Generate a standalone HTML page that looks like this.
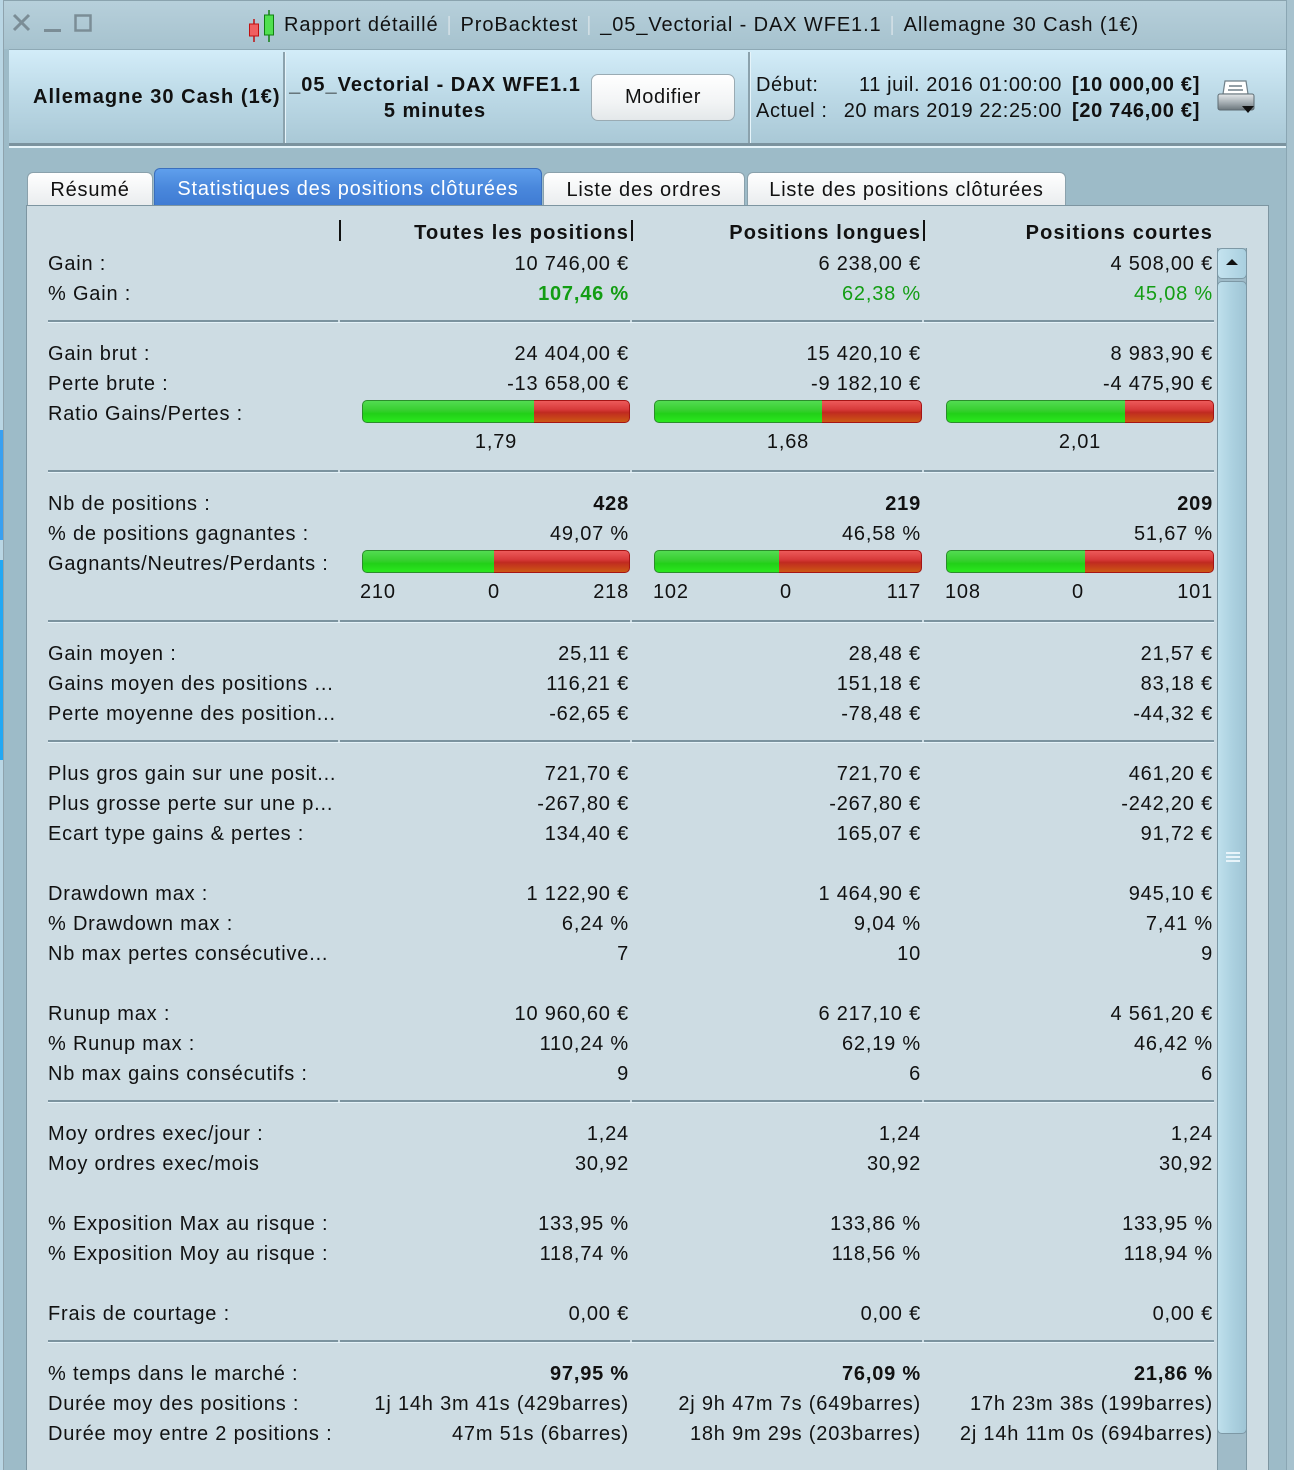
<!DOCTYPE html>
<html><head><meta charset="utf-8">
<style>
*{margin:0;padding:0;box-sizing:border-box}
html,body{width:1294px;height:1470px;overflow:hidden}
body{position:relative;background:#9dbbc8;font-family:"Liberation Sans",Arial,sans-serif;font-size:20px;color:#111;letter-spacing:0.8px}
.a{position:absolute}
.row{position:absolute;left:0;width:1294px;height:30px;line-height:30px;white-space:nowrap}
.l{position:absolute;left:48px}
.c1{position:absolute;right:665px}
.c2{position:absolute;right:373px}
.c3{position:absolute;right:81px}
.b{font-weight:bold}
.g{color:#139d13}
.sep{position:absolute;height:2px;background:#7b939f}
.sepl{position:absolute;height:1px;background:#e4f2f8}
.bar{position:absolute;height:23px;display:flex}
.gr{height:100%;background:linear-gradient(#52dc52,#36cf2e 45%,#22d018 60%,#2ae81e);border:1px solid #2b8d2b;border-right:none;border-radius:5px 0 0 5px}
.rd{height:100%;flex:1;background:linear-gradient(#ec5a5a,#d83a3a 40%,#c02a20 55%,#cc5814);border:1px solid #a51414;border-left:none;border-radius:0 5px 5px 0}
.tab{position:absolute;top:172px;height:34px;background:linear-gradient(#ffffff,#e9ecee);border:1px solid #8aa1ac;border-bottom:none;border-radius:6px 6px 0 0;text-align:center;line-height:34px;letter-spacing:0.8px}
.vb{position:absolute;top:220px;width:2px;height:21px;background:#111}
.ts{color:#d2dfe5;margin:0 1.5px}
</style></head><body>

<div class="a" style="left:0;top:0;width:3px;height:1470px;background:#b9d6e4"></div>
<div class="a" style="left:0;top:430px;width:3px;height:110px;background:#3aa0f0"></div>
<div class="a" style="left:0;top:560px;width:3px;height:200px;background:#22a8f4"></div>
<div class="a" style="left:3px;top:0;width:1px;height:1470px;background:#8fa3ad"></div>
<div class="a" style="left:1286px;top:0;width:8px;height:1470px;background:#a7c2ce"></div>
<div class="a" style="left:1286px;top:0;width:1px;height:1470px;background:#8aa6b3"></div>

<div class="a" style="left:4px;top:0;width:1282px;height:49px;background:linear-gradient(#b7d0db,#a6c2ce)"></div>
<div class="a" style="left:4px;top:0;width:1282px;height:1px;background:#8aa3ae"></div>
<svg class="a" style="left:10px;top:12px" width="90" height="24" viewBox="0 0 90 24">
<path d="M4 3 L19 18 M19 3 L4 18" stroke="#7b8d96" stroke-width="3" fill="none"/>
<rect x="34" y="17" width="17" height="3" fill="#7b8d96"/>
<rect x="65.5" y="3.5" width="15" height="15" fill="none" stroke="#7b8d96" stroke-width="2.5"/>
</svg>
<svg class="a" style="left:246px;top:9px" width="34" height="34" viewBox="0 0 34 34">
<line x1="8" y1="10" x2="8" y2="33" stroke="#c01010" stroke-width="1.5"/>
<rect x="3.5" y="15" width="9" height="12" fill="#f06060" stroke="#c01010" stroke-width="1"/>
<line x1="23" y1="1" x2="23" y2="33" stroke="#108010" stroke-width="1.5"/>
<rect x="18.5" y="6" width="9" height="20" fill="#50e050" stroke="#108010" stroke-width="1"/>
</svg>
<div class="a" style="left:284px;top:10px;height:30px;line-height:30px;white-space:nowrap;letter-spacing:0.9px">Rapport détaillé<span class="ts"> | </span>ProBacktest<span class="ts"> | </span>_05_Vectorial - DAX WFE1.1<span class="ts"> | </span>Allemagne 30 Cash (1€)</div>

<div class="a" style="left:9px;top:49px;width:1277px;height:95px;background:linear-gradient(#d3edf9,#bcd9e6 50%,#a9c8d6)"></div>
<div class="a" style="left:9px;top:49px;width:1277px;height:1px;background:#8ea9b5"></div>
<div class="a" style="left:9px;top:143px;width:1277px;height:3px;background:#7b939f"></div>
<div class="a" style="left:9px;top:146px;width:1277px;height:2px;background:#e6f4fa"></div>
<div class="a" style="left:283px;top:52px;width:2px;height:91px;background:#8ba2ad"></div>
<div class="a" style="left:285px;top:52px;width:1px;height:91px;background:#e6f4fa"></div>
<div class="a" style="left:748px;top:52px;width:2px;height:91px;background:#8ba2ad"></div>
<div class="a" style="left:750px;top:52px;width:1px;height:91px;background:#e6f4fa"></div>

<div class="a b" style="left:33px;top:82px;line-height:30px;white-space:nowrap;letter-spacing:1.05px">Allemagne 30 Cash (1€)</div>
<div class="a b" style="left:289px;top:70px;width:292px;text-align:center;line-height:30px;white-space:nowrap;letter-spacing:1px">_05_Vectorial - DAX WFE1.1</div>
<div class="a b" style="left:289px;top:96px;width:292px;text-align:center;line-height:30px;white-space:nowrap;letter-spacing:1px">5 minutes</div>
<div class="a" style="left:591px;top:74px;width:144px;height:47px;border:1px solid #9aabb3;border-radius:7px;background:linear-gradient(#ffffff,#f2f4f5 60%,#e4e8ea);text-align:center;line-height:45px;letter-spacing:0.6px">Modifier</div>

<div class="a" style="left:756px;top:70px;line-height:30px;white-space:nowrap;letter-spacing:0.6px">Début:</div>
<div class="a" style="left:756px;top:70px;width:306px;text-align:right;line-height:30px;white-space:nowrap;letter-spacing:0.6px">11 juil. 2016 01:00:00</div>
<div class="a b" style="left:1072px;top:70px;line-height:30px;white-space:nowrap;letter-spacing:0.7px">[10 000,00 €]</div>
<div class="a" style="left:756px;top:96px;line-height:30px;white-space:nowrap;letter-spacing:0.6px">Actuel :</div>
<div class="a" style="left:756px;top:96px;width:306px;text-align:right;line-height:30px;white-space:nowrap;letter-spacing:0.6px">20 mars 2019 22:25:00</div>
<div class="a b" style="left:1072px;top:96px;line-height:30px;white-space:nowrap;letter-spacing:0.7px">[20 746,00 €]</div>
<svg class="a" style="left:1216px;top:78px" width="42" height="38" viewBox="0 0 42 38">
<path d="M9 3 L30 3 L32 16 L7 16 Z" fill="#ffffff" stroke="#6f7f88" stroke-width="1.2"/>
<line x1="13" y1="8" x2="26" y2="8" stroke="#6f7f88" stroke-width="1.5"/>
<line x1="12" y1="12" x2="27" y2="12" stroke="#6f7f88" stroke-width="1.5"/>
<rect x="2" y="16" width="36" height="16" rx="2" fill="url(#pg)" stroke="#5d6b72" stroke-width="1"/>
<defs><linearGradient id="pg" x1="0" y1="0" x2="0" y2="1"><stop offset="0" stop-color="#e4e8ea"/><stop offset="0.5" stop-color="#a9b2b7"/><stop offset="1" stop-color="#6b767c"/></linearGradient></defs>
<path d="M26 28 L38 28 L32 35 Z" fill="#111"/>
</svg>

<div class="tab" style="left:27px;width:126px">Résumé</div>
<div class="tab" style="left:154px;top:168px;height:38px;width:388px;background:linear-gradient(#5f9fec,#4a88dc 50%,#3f7bd3);border-color:#3b6fbd;color:#fff;line-height:40px">Statistiques des positions clôturées</div>
<div class="tab" style="left:543px;width:202px">Liste des ordres</div>
<div class="tab" style="left:747px;width:319px">Liste des positions clôturées</div>

<div class="a" style="left:26px;top:205px;width:1243px;height:1265px;background:#cddce3;border:1px solid #7d95a1;border-bottom:none"></div>

<div class="a" style="left:1217px;top:248px;width:30px;height:1222px;background:#9fbbc8;border-left:1px solid #7e98a4;border-right:1px solid #7e98a4"></div>
<div class="a" style="left:1217px;top:248px;width:30px;height:31px;border:1px solid #7d98a5;border-radius:5px;background:linear-gradient(90deg,#c4e3ef,#a9cfdf)"></div>
<svg class="a" style="left:1224px;top:256px" width="16" height="12" viewBox="0 0 16 12"><path d="M2 9 L14 9 L8 3 Z" fill="#111"/></svg>
<div class="a" style="left:1217px;top:281px;width:30px;height:1153px;border:1px solid #7d98a5;border-radius:5px;background:linear-gradient(90deg,#bfe0ec,#acd1e0 50%,#9fc5d5)"></div>
<div class="a" style="left:1226px;top:852px;width:14px;height:2px;background:#e8f4fa"></div>
<div class="a" style="left:1226px;top:856px;width:14px;height:2px;background:#e8f4fa"></div>
<div class="a" style="left:1226px;top:860px;width:14px;height:2px;background:#e8f4fa"></div>

<div class="vb" style="left:339px"></div>
<div class="vb" style="left:631px"></div>
<div class="vb" style="left:923px"></div>
<div class="row b" style="top:218px;letter-spacing:1.15px"><span class="c1">Toutes les positions</span><span class="c2">Positions longues</span><span class="c3">Positions courtes</span></div>

<div class="row" style="top:249px"><span class="l">Gain :</span><span class="c1">10 746,00 €</span><span class="c2">6 238,00 €</span><span class="c3">4 508,00 €</span></div>
<div class="row g" style="top:279px"><span class="l" style="color:#111">% Gain :</span><span class="c1 b">107,46 %</span><span class="c2">62,38 %</span><span class="c3">45,08 %</span></div>

<div class="sep" style="left:48px;top:320px;width:290px"></div><div class="sep" style="left:340px;top:320px;width:290px"></div><div class="sep" style="left:632px;top:320px;width:290px"></div><div class="sep" style="left:924px;top:320px;width:290px"></div>
<div class="sepl" style="left:48px;top:322px;width:1166px"></div>

<div class="row" style="top:339px"><span class="l">Gain brut :</span><span class="c1">24 404,00 €</span><span class="c2">15 420,10 €</span><span class="c3">8 983,90 €</span></div>
<div class="row" style="top:369px"><span class="l">Perte brute :</span><span class="c1">-13 658,00 €</span><span class="c2">-9 182,10 €</span><span class="c3">-4 475,90 €</span></div>
<div class="row" style="top:399px"><span class="l">Ratio Gains/Pertes :</span></div>
<div class="bar" style="left:362px;top:400px;width:268px"><div class="gr" style="width:172px"></div><div class="rd"></div></div>
<div class="bar" style="left:654px;top:400px;width:268px"><div class="gr" style="width:168px"></div><div class="rd"></div></div>
<div class="bar" style="left:946px;top:400px;width:268px"><div class="gr" style="width:179px"></div><div class="rd"></div></div>
<div class="row" style="top:427px"><span class="a" style="left:396px;width:200px;text-align:center">1,79</span><span class="a" style="left:688px;width:200px;text-align:center">1,68</span><span class="a" style="left:980px;width:200px;text-align:center">2,01</span></div>

<div class="sep" style="left:48px;top:470px;width:290px"></div><div class="sep" style="left:340px;top:470px;width:290px"></div><div class="sep" style="left:632px;top:470px;width:290px"></div><div class="sep" style="left:924px;top:470px;width:290px"></div>
<div class="sepl" style="left:48px;top:472px;width:1166px"></div>

<div class="row" style="top:489px"><span class="l">Nb de positions :</span><span class="c1 b">428</span><span class="c2 b">219</span><span class="c3 b">209</span></div>
<div class="row" style="top:519px"><span class="l">% de positions gagnantes :</span><span class="c1">49,07 %</span><span class="c2">46,58 %</span><span class="c3">51,67 %</span></div>
<div class="row" style="top:549px"><span class="l">Gagnants/Neutres/Perdants :</span></div>
<div class="bar" style="left:362px;top:550px;width:268px"><div class="gr" style="width:132px"></div><div class="rd"></div></div>
<div class="bar" style="left:654px;top:550px;width:268px"><div class="gr" style="width:125px"></div><div class="rd"></div></div>
<div class="bar" style="left:946px;top:550px;width:268px"><div class="gr" style="width:139px"></div><div class="rd"></div></div>
<div class="row" style="top:577px">
<span class="a" style="left:360px">210</span><span class="a" style="left:444px;width:100px;text-align:center">0</span><span class="c1">218</span>
<span class="a" style="left:653px">102</span><span class="a" style="left:736px;width:100px;text-align:center">0</span><span class="c2">117</span>
<span class="a" style="left:945px">108</span><span class="a" style="left:1028px;width:100px;text-align:center">0</span><span class="c3">101</span>
</div>

<div class="sep" style="left:48px;top:620px;width:290px"></div><div class="sep" style="left:340px;top:620px;width:290px"></div><div class="sep" style="left:632px;top:620px;width:290px"></div><div class="sep" style="left:924px;top:620px;width:290px"></div>
<div class="sepl" style="left:48px;top:622px;width:1166px"></div>

<div class="row" style="top:639px"><span class="l">Gain moyen :</span><span class="c1">25,11 €</span><span class="c2">28,48 €</span><span class="c3">21,57 €</span></div>
<div class="row" style="top:669px"><span class="l">Gains moyen des positions ...</span><span class="c1">116,21 €</span><span class="c2">151,18 €</span><span class="c3">83,18 €</span></div>
<div class="row" style="top:699px"><span class="l">Perte moyenne des position...</span><span class="c1">-62,65 €</span><span class="c2">-78,48 €</span><span class="c3">-44,32 €</span></div>

<div class="sep" style="left:48px;top:740px;width:290px"></div><div class="sep" style="left:340px;top:740px;width:290px"></div><div class="sep" style="left:632px;top:740px;width:290px"></div><div class="sep" style="left:924px;top:740px;width:290px"></div>
<div class="sepl" style="left:48px;top:742px;width:1166px"></div>

<div class="row" style="top:759px"><span class="l">Plus gros gain sur une posit...</span><span class="c1">721,70 €</span><span class="c2">721,70 €</span><span class="c3">461,20 €</span></div>
<div class="row" style="top:789px"><span class="l">Plus grosse perte sur une p...</span><span class="c1">-267,80 €</span><span class="c2">-267,80 €</span><span class="c3">-242,20 €</span></div>
<div class="row" style="top:819px"><span class="l">Ecart type gains &amp; pertes :</span><span class="c1">134,40 €</span><span class="c2">165,07 €</span><span class="c3">91,72 €</span></div>

<div class="row" style="top:879px"><span class="l">Drawdown max :</span><span class="c1">1 122,90 €</span><span class="c2">1 464,90 €</span><span class="c3">945,10 €</span></div>
<div class="row" style="top:909px"><span class="l">% Drawdown max :</span><span class="c1">6,24 %</span><span class="c2">9,04 %</span><span class="c3">7,41 %</span></div>
<div class="row" style="top:939px"><span class="l">Nb max pertes consécutive...</span><span class="c1">7</span><span class="c2">10</span><span class="c3">9</span></div>

<div class="row" style="top:999px"><span class="l">Runup max :</span><span class="c1">10 960,60 €</span><span class="c2">6 217,10 €</span><span class="c3">4 561,20 €</span></div>
<div class="row" style="top:1029px"><span class="l">% Runup max :</span><span class="c1">110,24 %</span><span class="c2">62,19 %</span><span class="c3">46,42 %</span></div>
<div class="row" style="top:1059px"><span class="l">Nb max gains consécutifs :</span><span class="c1">9</span><span class="c2">6</span><span class="c3">6</span></div>

<div class="sep" style="left:48px;top:1100px;width:290px"></div><div class="sep" style="left:340px;top:1100px;width:290px"></div><div class="sep" style="left:632px;top:1100px;width:290px"></div><div class="sep" style="left:924px;top:1100px;width:290px"></div>
<div class="sepl" style="left:48px;top:1102px;width:1166px"></div>

<div class="row" style="top:1119px"><span class="l">Moy ordres exec/jour :</span><span class="c1">1,24</span><span class="c2">1,24</span><span class="c3">1,24</span></div>
<div class="row" style="top:1149px"><span class="l">Moy ordres exec/mois</span><span class="c1">30,92</span><span class="c2">30,92</span><span class="c3">30,92</span></div>

<div class="row" style="top:1209px"><span class="l">% Exposition Max au risque :</span><span class="c1">133,95 %</span><span class="c2">133,86 %</span><span class="c3">133,95 %</span></div>
<div class="row" style="top:1239px"><span class="l">% Exposition Moy au risque :</span><span class="c1">118,74 %</span><span class="c2">118,56 %</span><span class="c3">118,94 %</span></div>

<div class="row" style="top:1299px"><span class="l">Frais de courtage :</span><span class="c1">0,00 €</span><span class="c2">0,00 €</span><span class="c3">0,00 €</span></div>

<div class="sep" style="left:48px;top:1340px;width:290px"></div><div class="sep" style="left:340px;top:1340px;width:290px"></div><div class="sep" style="left:632px;top:1340px;width:290px"></div><div class="sep" style="left:924px;top:1340px;width:290px"></div>
<div class="sepl" style="left:48px;top:1342px;width:1166px"></div>

<div class="row" style="top:1359px"><span class="l">% temps dans le marché :</span><span class="c1 b">97,95 %</span><span class="c2 b">76,09 %</span><span class="c3 b">21,86 %</span></div>
<div class="row" style="top:1389px"><span class="l">Durée moy des positions :</span><span class="c1">1j 14h 3m 41s (429barres)</span><span class="c2">2j 9h 47m 7s (649barres)</span><span class="c3">17h 23m 38s (199barres)</span></div>
<div class="row" style="top:1419px"><span class="l">Durée moy entre 2 positions :</span><span class="c1">47m 51s (6barres)</span><span class="c2">18h 9m 29s (203barres)</span><span class="c3">2j 14h 11m 0s (694barres)</span></div>

</body></html>
